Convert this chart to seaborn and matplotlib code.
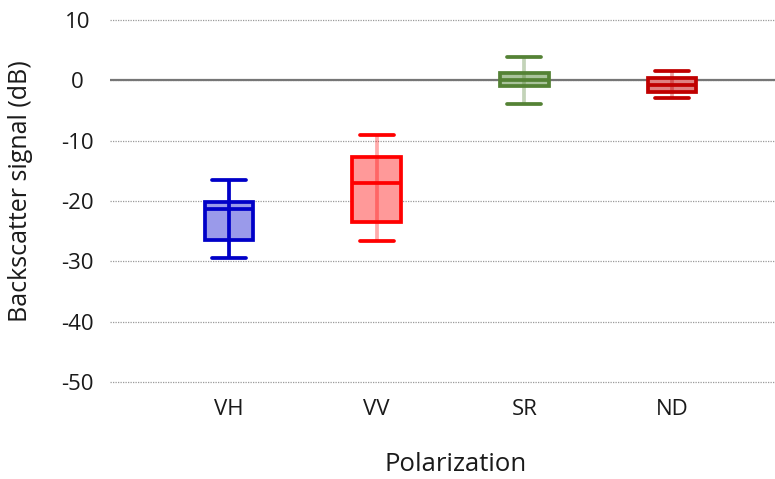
import numpy as np
import pandas as pd
import matplotlib
matplotlib.use("Agg")
import matplotlib.pyplot as plt
from matplotlib.colors import to_rgba
import seaborn as sns

# Five-number summaries of backscatter per polarization (dB)
categories = ["VH", "VV", "SR", "ND"]
lower_whisker = [-29.4, -26.7, -4.0, -2.9]
lower_quartile = [-26.4, -23.4, -1.0, -2.0]
medians = [-21.3, -17.0, 0.1, -0.7]
upper_quartile = [-20.2, -12.7, 1.3, 0.4]
upper_whisker = [-16.5, -9.1, 3.9, 1.5]
y_ticks = [10, 0, -10, -20, -30, -40, -50]

edge_colors = ["#0000C8", "#FF0000", "#548235", "#C00000"]
fill_colors = ["#9A9AEA", "#FF9999", "#A9C39B", "#E08080"]
whisker_alpha = [1.0, 0.33, 0.35, 0.35]

# Five values per group reproduce the summary exactly (linear quartiles)
rows = []
for cat, lo, q1, med, q3, hi in zip(categories, lower_whisker, lower_quartile,
                                    medians, upper_quartile, upper_whisker):
    for v in (lo, q1, med, q3, hi):
        rows.append({"Polarization": cat, "Backscatter": v})
df = pd.DataFrame(rows)

sns.set_theme(style="white")
plt.rcParams["font.family"] = ["Open Sans", "DejaVu Sans"]
plt.rcParams["axes.unicode_minus"] = False

fig = plt.figure(figsize=(7.75, 4.79), dpi=100)
rect = [0.142, 0.1987, 0.858, 0.7633]
ax = fig.add_axes(rect)

box_width = 0.33
lw = 2.7
sns.boxplot(data=df, x="Polarization", y="Backscatter", hue="Polarization",
            order=categories, hue_order=categories, palette=fill_colors,
            whis=(0, 100), width=box_width, linewidth=lw, showfliers=False,
            legend=False, saturation=1, ax=ax)

# Per-group outline colours and wider caps
for i, cont in enumerate(ax.containers):
    for b in cont.boxes:
        b.set_edgecolor(edge_colors[i])
        b.set_facecolor(fill_colors[i])
    for m in cont.medians:
        m.set_color(edge_colors[i])
        m.set_linewidth(lw)
    for w in cont.whiskers:
        w.set_visible(False)
    for c in cont.caps:
        c.set_color(edge_colors[i])
        c.set_linewidth(lw)
        xc = np.mean(c.get_xdata())
        half = 0.7 * box_width / 2
        c.set_xdata([xc - half, xc + half])

ax.set_ylim(-50.3, 10.3)
ax.set_xlim(-0.806, 3.697)
ax.set_yticks(y_ticks)
ax.yaxis.grid(True, linestyle=(0, (1, 1)), color="#9a9a9a", linewidth=0.9)
ax.set_axisbelow(True)
ax.axhline(0, color="#767676", linewidth=1.6, zorder=1.5)

for s in ax.spines.values():
    s.set_visible(False)

ax.tick_params(axis="y", length=0, pad=23.5, labelsize=16, labelcolor="#1a1a1a")
ax.tick_params(axis="x", length=0, pad=11, labelsize=16, labelcolor="#1a1a1a")
for t in ax.get_yticklabels():
    t.set_horizontalalignment("center")

ax.set_xlabel("Polarization", fontsize=18.5, color="#1a1a1a")
ax.set_ylabel("Backscatter signal (dB)", fontsize=18, color="#1a1a1a")
ax.xaxis.set_label_coords(0.519, -0.187)
ax.yaxis.set_label_coords(-0.116, 0.527)

# Translucent whisker line running through each box, on an overlay layer
overlay = fig.add_axes(rect, sharex=ax, sharey=ax)
overlay.set_axis_off()
whisker_rgba = [to_rgba(c, a) for c, a in zip(edge_colors, whisker_alpha)]
overlay.vlines(range(len(categories)), lower_whisker, upper_whisker,
               colors=whisker_rgba, linewidth=lw)
overlay.set_xlim(-0.806, 3.697)
overlay.set_ylim(-50.3, 10.3)

fig.savefig("out.png", dpi=100)
